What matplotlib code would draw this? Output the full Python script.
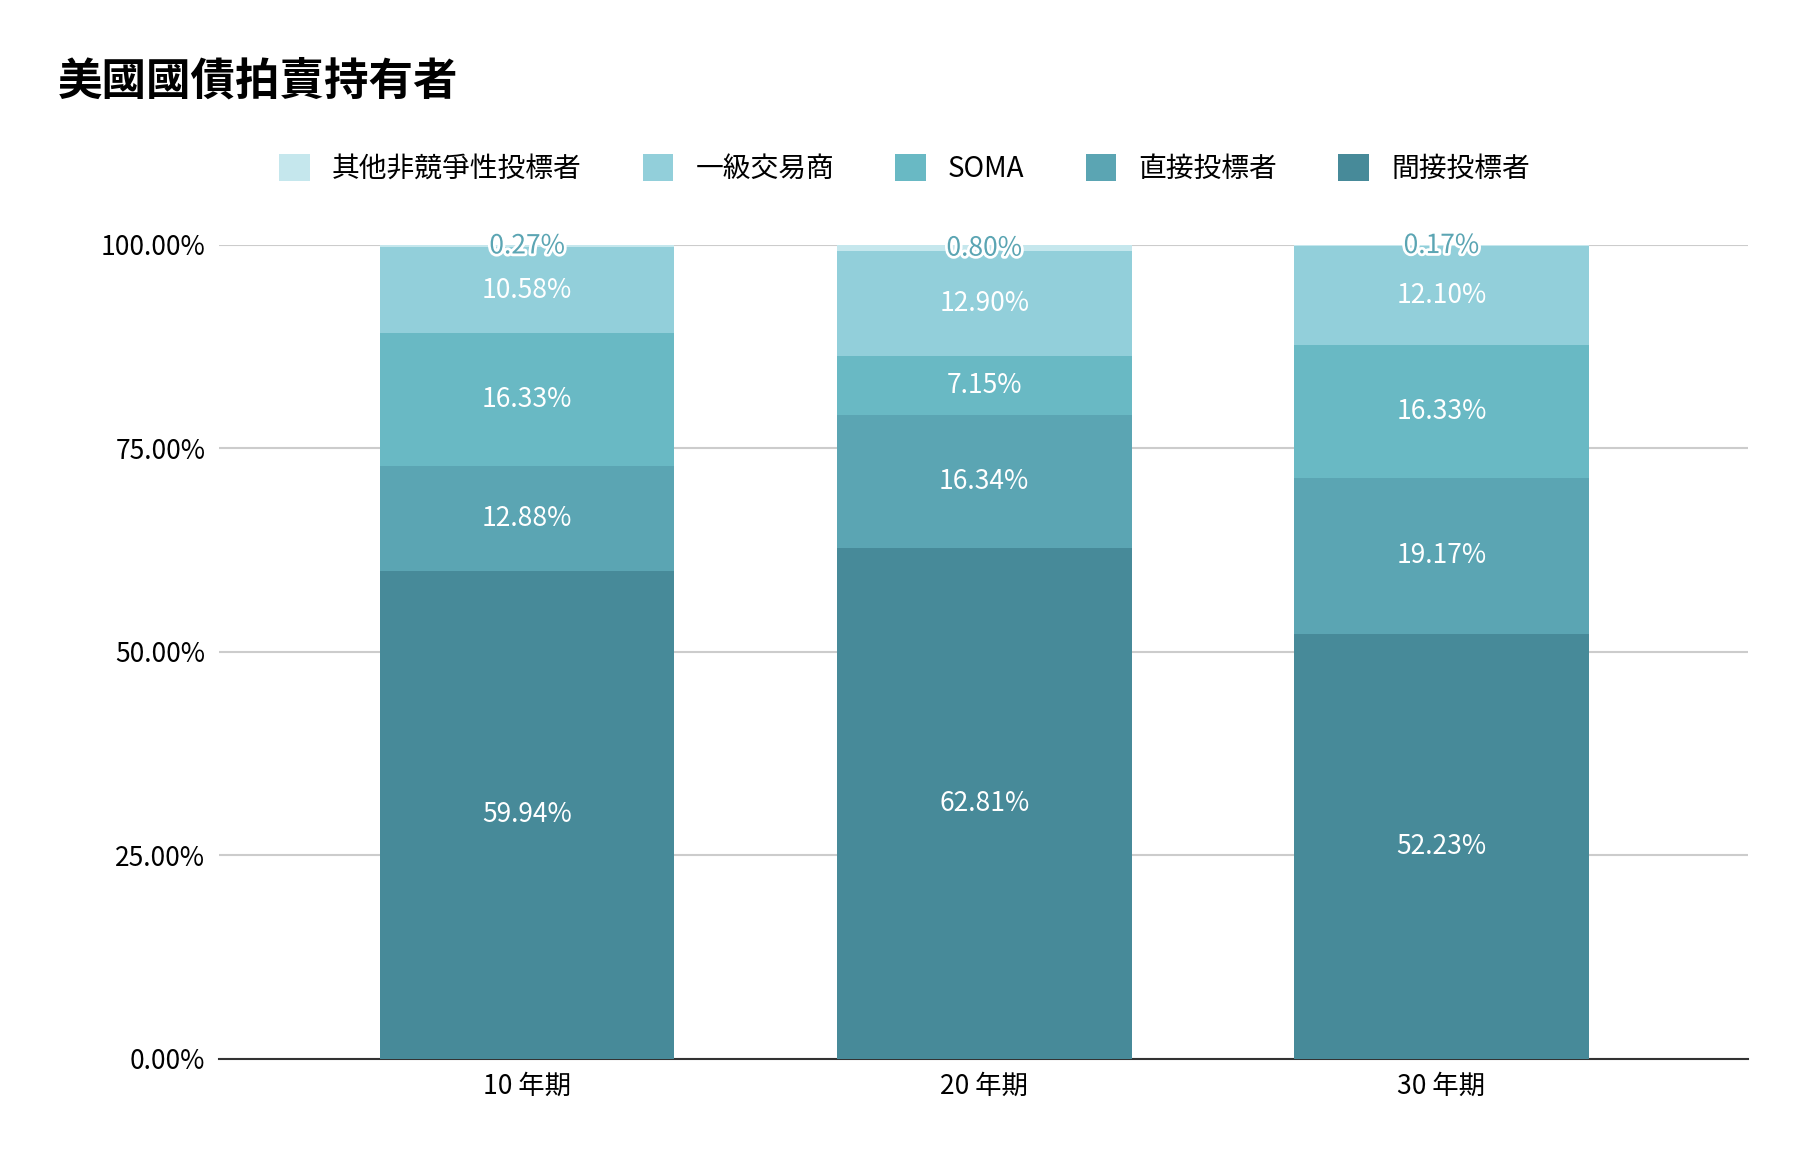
import matplotlib.pyplot as plt
import matplotlib.patheffects as pe
from matplotlib import font_manager as fm
import numpy as np

cjk = [f.name for f in fm.fontManager.ttflist if 'CJK' in f.name]
pref = [n for n in ['Noto Sans CJK TC', 'Noto Sans CJK JP', 'Noto Sans CJK SC'] if n in cjk]
cjk_name = pref[0] if pref else (cjk[0] if cjk else 'DejaVu Sans')
plt.rcParams['font.family'] = 'sans-serif'
plt.rcParams['font.sans-serif'] = [cjk_name, 'DejaVu Sans']

categories = ['10 年期', '20 年期', '30 年期']
series_names = ['間接投標者', '直接投標者', 'SOMA', '一級交易商', '其他非競爭性投標者']
indirect = [59.94, 62.81, 52.23]
direct = [12.88, 16.34, 19.17]
soma = [16.33, 7.15, 16.33]
primary = [10.58, 12.90, 12.10]
other = [0.27, 0.80, 0.17]
colors = ['#478a99', '#5ba5b3', '#69b9c4', '#92cfda', '#c5e7ed']

fig = plt.figure(figsize=(17.98, 11.66), dpi=100)
ax = fig.add_axes([0.122, 0.092, 0.850, 0.698])
x = np.arange(len(categories))
bottom = np.zeros(len(categories))
handles = []
for name, vals, c in zip(series_names, [indirect, direct, soma, primary, other], colors):
    vals = np.array(vals)
    b = ax.bar(x, vals, 0.645, bottom=bottom, color=c, label=name, zorder=3)
    handles.append(b)
    for xi, v, b0 in zip(x, vals, bottom):
        if name == '其他非競爭性投標者':
            ax.text(xi, b0 + v / 2, f'{v:.2f}%', ha='center', va='center', fontsize=19,
                    color='#5ba5b3', zorder=5,
                    path_effects=[pe.withStroke(linewidth=4, foreground='white')])
        else:
            ax.text(xi, b0 + v / 2, f'{v:.2f}%', ha='center', va='center', fontsize=19,
                    color='white', zorder=5)
    bottom += vals

ax.set_xlim(-0.673, 2.67)
ax.set_ylim(0, 100)
ax.set_yticks([0, 25, 50, 75, 100])
ax.set_yticklabels([f'{t:.2f}%' for t in [0, 25, 50, 75, 100]], fontsize=19)
ax.set_xticks(x)
ax.set_xticklabels(categories, fontsize=19)
ax.grid(axis='y', color='#cccccc', linewidth=1.5, zorder=0)
for s in ['top', 'right', 'left']:
    ax.spines[s].set_visible(False)
ax.spines['bottom'].set_color('#333333')
ax.spines['bottom'].set_linewidth(1.5)
ax.tick_params(length=0, pad=10)

fig.text(0.032, 0.93, '美國國債拍賣持有者', fontsize=32, fontweight='bold', va='center')
fig.legend(handles[::-1], series_names[::-1], loc='center', bbox_to_anchor=(0.503, 0.855),
           ncol=5, frameon=False, fontsize=20, handlelength=1.1, handleheight=1.1,
           columnspacing=2.2)

fig.savefig('out.png', dpi=100, facecolor='white')
